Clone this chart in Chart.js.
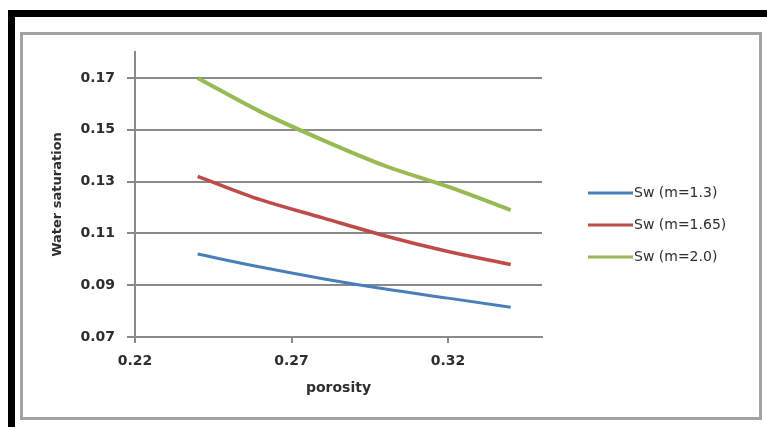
<!DOCTYPE html>
<html>
<head>
<meta charset="utf-8">
<script src="https://cdn.jsdelivr.net/npm/chart.js@4"></script>
<style>
    html, body { margin: 0; padding: 0; background: #fff; width: 767px; height: 427px; overflow: hidden; }
    #frame { position: absolute; left: 8px; top: 10px; width: 800px; height: 450px; border-top: 7px solid #000; border-left: 7px solid #000; }
    #panel { position: absolute; left: 20px; top: 32px; width: 736px; height: 382px; border: 3px solid #a3a3a3; }
    #wrap { position: absolute; left: 0; top: 0; width: 767px; height: 427px; }
</style>
</head>
<body>
<div id="frame"></div>
<div id="panel"></div>
<div id="wrap"><canvas id="chart"></canvas></div>
<script>
// porosity values along the curves
const porosity = [0.24, 0.26, 0.28, 0.30, 0.32, 0.34];

// water saturation
const swM13  = [0.102, 0.097, 0.0925, 0.0885, 0.085, 0.0815];
const swM165 = [0.132, 0.123, 0.116, 0.109, 0.103, 0.098];
const swM20  = [0.170, 0.157, 0.146, 0.136, 0.128, 0.119];

const seriesNames = ['Sw (m=1.3)', 'Sw (m=1.65)', 'Sw (m=2.0)'];
const seriesColors = ['#4a7ebb', '#be4b48', '#98b954'];
const seriesWidths = [3, 3.5, 4];

const xTicks = [0.22, 0.27, 0.32];
const yTicks = [0.07, 0.09, 0.11, 0.13, 0.15, 0.17];

const axisColor = '#8a8a8a';
const textColor = '#2e2e2e';
const fontFamily = '"DejaVu Sans", sans-serif';

function toPoints(values) {
    return porosity.map((p, i) => ({ x: p, y: values[i] }));
}

const datasets = [swM13, swM165, swM20].map((vals, i) => ({
    label: seriesNames[i],
    data: toPoints(vals),
    borderColor: seriesColors[i],
    backgroundColor: seriesColors[i],
    borderWidth: seriesWidths[i],
    pointRadius: 0,
    tension: 0.4,
    cubicInterpolationMode: 'monotone',
    fill: false
}));

// legend drawn by hand so it sits where the original has it
const sideLegend = {
    id: 'sideLegend',
    afterDraw(chart) {
        const ctx = chart.ctx;
        ctx.save();
        ctx.font = '14px ' + fontFamily;
        ctx.textBaseline = 'middle';
        chart.data.datasets.forEach((ds, i) => {
            const y = 193 + i * 32;
            ctx.strokeStyle = ds.borderColor;
            ctx.lineWidth = 3;
            ctx.beginPath();
            ctx.moveTo(588, y);
            ctx.lineTo(633, y);
            ctx.stroke();
            ctx.fillStyle = textColor;
            ctx.fillText(ds.label, 634, y);
        });
        ctx.restore();
    }
};

const ctx = document.getElementById('chart').getContext('2d');
new Chart(ctx, {
    type: 'line',
    data: { datasets },
    plugins: [sideLegend],
    options: {
        responsive: true,
        maintainAspectRatio: false,
        animation: false,
        layout: { padding: { top: 52, right: 225, left: 0, bottom: 0 } },
        plugins: {
            legend: { display: false },
            tooltip: { enabled: false }
        },
        scales: {
            x: {
                type: 'linear',
                min: 0.22,
                max: 0.35,
                afterBuildTicks: scale => { scale.ticks = xTicks.map(v => ({ value: v })); },
                afterFit: scale => { scale.height = 90; },
                grid: { drawOnChartArea: false, drawTicks: true, tickLength: 6, color: axisColor, lineWidth: 2 },
                border: { display: true, color: axisColor, width: 2 },
                ticks: {
                    padding: 10,
                    color: textColor,
                    font: { family: fontFamily, size: 14, weight: 'bold' },
                    callback: v => v.toFixed(2)
                },
                title: {
                    display: true,
                    text: 'porosity',
                    color: textColor,
                    font: { family: fontFamily, size: 14, weight: 'bold' },
                    padding: { top: 0, bottom: 30 }
                }
            },
            y: {
                min: 0.07,
                max: 0.18,
                afterBuildTicks: scale => { scale.ticks = yTicks.map(v => ({ value: v })); },
                afterFit: scale => { scale.width = 135; },
                grid: { drawOnChartArea: true, drawTicks: true, tickLength: 8, color: axisColor, lineWidth: 2 },
                border: { display: true, color: axisColor, width: 2 },
                ticks: {
                    padding: 12,
                    color: textColor,
                    font: { family: fontFamily, size: 14, weight: 'bold' },
                    callback: v => v.toFixed(2)
                },
                title: {
                    display: true,
                    text: 'Water saturation',
                    color: textColor,
                    font: { family: fontFamily, size: 13, weight: 'bold' },
                    padding: { top: 50, bottom: 0 }
                }
            }
        }
    }
});
</script>
</body>
</html>
